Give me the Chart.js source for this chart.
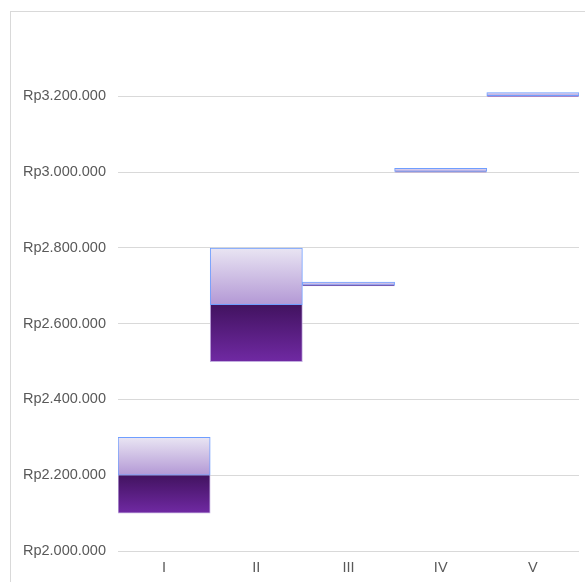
<!DOCTYPE html>
<html>
<head>
<meta charset="utf-8">
<script src="https://cdn.jsdelivr.net/npm/chart.js@4"></script>
<style>
  html, body { margin: 0; padding: 0; background: #fff; }
  #wrap { width: 585px; height: 582px; position: relative; }
</style>
</head>
<body>
<div id="wrap"><canvas id="chart" width="585" height="582"></canvas></div>
<script>
// data
const categories = ['I', 'II', 'III', 'IV', 'V'];
const lowValues = [2100000, 2500000, 2700000, 3000000, 3200000];
const midValues = [2200000, 2650000, 2702000, 3002000, 3202000];
const highValues = [2300000, 2800000, 2710000, 3010000, 3210000];
const yTicks = [2000000, 2200000, 2400000, 2600000, 2800000, 3000000, 3200000];

function rupiah(v) {
  return 'Rp' + String(v).replace(/\B(?=(\d{3})+(?!\d))/g, '.');
}

// vertical gradient for each bar, from its own top to bottom
function barGradient(stops) {
  return (context) => {
    const chart = context.chart;
    const y = chart.scales.y;
    if (!chart.chartArea || !y || !Array.isArray(context.raw)) return stops[stops.length - 1][1];
    const top = y.getPixelForValue(Math.max(...context.raw));
    const bottom = y.getPixelForValue(Math.min(...context.raw));
    const g = chart.ctx.createLinearGradient(0, top, 0, bottom + 0.01);
    stops.forEach(([p, c]) => g.addColorStop(p, c));
    return g;
  };
}

// outer frame of the chart
const framePlugin = {
  id: 'frame',
  beforeDraw(chart) {
    const ctx = chart.ctx;
    ctx.save();
    ctx.strokeStyle = '#d9d9d9';
    ctx.lineWidth = 1;
    ctx.strokeRect(10.5, 11.5, 600, 600);
    ctx.restore();
  },
};

Chart.defaults.font.family = '"Liberation Sans", Arial, sans-serif';
Chart.defaults.font.size = 14.5;
Chart.defaults.color = '#595959';

new Chart(document.getElementById('chart').getContext('2d'), {
  type: 'bar',
  data: {
    labels: categories,
    datasets: [
      {
        label: 'Bawah',
        data: categories.map((c, i) => [lowValues[i], midValues[i]]),
        grouped: false,
        categoryPercentage: 1,
        barPercentage: 1,
        borderWidth: { left: 1, right: 1, bottom: 1, top: 0 },
        borderColor: '#c2addf',
        borderSkipped: false,
        backgroundColor: barGradient([[0, '#421360'], [1, '#7029a3']]),
        order: 2,
      },
      {
        label: 'Atas',
        data: categories.map((c, i) => [midValues[i], highValues[i]]),
        grouped: false,
        categoryPercentage: 1,
        barPercentage: 1,
        borderWidth: 1,
        borderColor: '#6f9eff',
        borderSkipped: false,
        backgroundColor: barGradient([[0, '#e9e5f3'], [1, '#b398d5']]),
        order: 1,
      },
    ],
  },
  options: {
    responsive: false,
    animation: false,
    layout: { padding: { top: 19, right: 6, left: 0, bottom: 0 } },
    plugins: {
      legend: { display: false },
      tooltip: { enabled: false },
    },
    scales: {
      x: {
        grid: { display: false, drawTicks: false },
        border: { display: false },
        ticks: { padding: 8, color: '#595959' },
        afterFit: (scale) => { scale.height = 31; },
      },
      y: {
        min: 2000000,
        max: 3400000,
        afterBuildTicks: (scale) => {
          scale.ticks = yTicks.map((v) => ({ value: v }));
        },
        grid: { color: '#d9d9d9', lineWidth: 1, drawTicks: false },
        border: { display: false },
        ticks: {
          padding: 12,
          color: '#595959',
          callback: (v) => rupiah(v),
        },
        afterFit: (scale) => { scale.width = 118; },
      },
    },
  },
  plugins: [framePlugin],
});
</script>
</body>
</html>
